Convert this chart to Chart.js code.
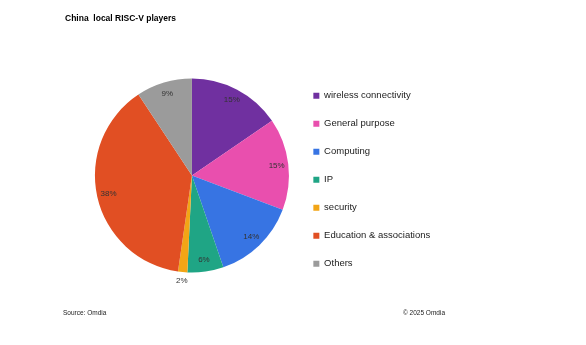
<!DOCTYPE html>
<html>
<head>
<meta charset="utf-8">
<script src="https://cdn.jsdelivr.net/npm/chart.js@4"></script>
<style>
  body { margin: 0; background: #fff; }
  #wrap { position: relative; width: 586px; height: 345px; }
  #title { position: absolute; left: 65px; top: 13px; font: bold 8.5px "Liberation Sans", sans-serif; color: #000; }
  .foot { position: absolute; top: 309px; font: 6.5px "Liberation Sans", sans-serif; color: #222; }
</style>
</head>
<body>
<div id="wrap">
  <canvas id="pieChart" width="586" height="345"></canvas>
  <div id="title">China&nbsp; local RISC-V players</div>
  <div class="foot" style="left:63px">Source: Omdia</div>
  <div class="foot" style="left:403px">© 2025 Omdia</div>
</div>
<script>
'use strict';

// Kategorien und Anteile (in %)
const categories = ['wireless connectivity', 'General purpose', 'Computing', 'IP', 'security', 'Education & associations', 'Others'];
const shares = [15.45, 15.3, 14.0, 6.0, 1.55, 38.4, 9.3];
const colors = ['#7030A0', '#E94FAE', '#3774E3', '#1FA585', '#F2A516', '#E14F23', '#9B9B9B'];

// Prozent-Beschriftung auf den Segmenten
const pctLabels = {
  id: 'pctLabels',
  afterDatasetsDraw(chart) {
    const ctx = chart.ctx;
    const meta = chart.getDatasetMeta(0);
    const values = chart.data.datasets[0].data;
    const total = values.reduce((a, b) => a + b, 0);
    ctx.save();
    ctx.font = '8px "Liberation Sans", sans-serif';
    ctx.fillStyle = '#333';
    ctx.textAlign = 'center';
    ctx.textBaseline = 'middle';
    meta.data.forEach((arc, i) => {
      const p = arc.getProps(['x', 'y', 'startAngle', 'endAngle', 'outerRadius'], true);
      const mid = (p.startAngle + p.endAngle) / 2;
      const pct = values[i] / total * 100;
      const r = pct < 3 ? p.outerRadius + 9 : p.outerRadius * 0.88;
      ctx.fillText(Math.round(pct) + '%', p.x + Math.cos(mid) * r, p.y + Math.sin(mid) * r);
    });
    ctx.restore();
  }
};

new Chart(document.getElementById('pieChart').getContext('2d'), {
  type: 'pie',
  data: {
    labels: categories,
    datasets: [{
      data: shares,
      backgroundColor: colors,
      borderWidth: 0
    }]
  },
  options: {
    responsive: false,
    animation: false,
    devicePixelRatio: 1,
    radius: 97,
    layout: { padding: { left: 89, right: 145.75, top: 23, bottom: 17 } },
    plugins: {
      tooltip: { enabled: false },
      legend: {
        position: 'right',
        title: { display: true, text: ' ', padding: 0, font: { size: 7 } },
        labels: {
          boxWidth: 6,
          boxHeight: 6,
          padding: 18.5,
          color: '#222',
          font: { family: 'Liberation Sans', size: 9.5 }
        }
      }
    }
  },
  plugins: [pctLabels]
});
</script>
</body>
</html>
